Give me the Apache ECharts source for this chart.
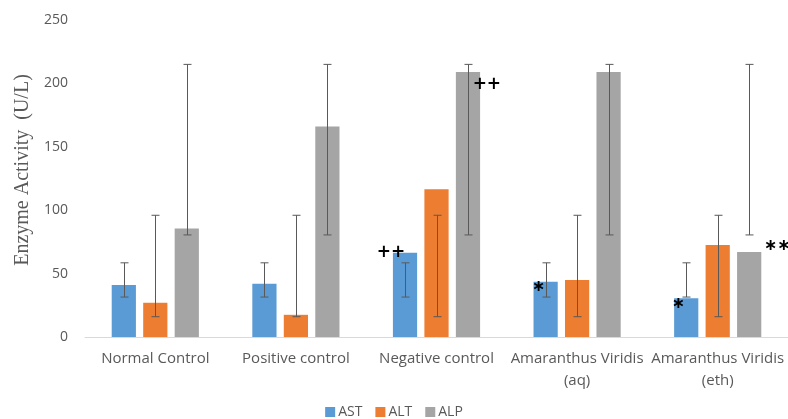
<!DOCTYPE html>
<html><head><meta charset="utf-8">
<script src="https://cdn.jsdelivr.net/npm/echarts@6/dist/echarts.min.js"></script>
<style>html,body{margin:0;padding:0;background:#fff}#c{width:788px;height:419px}</style>
</head><body><div id="c"></div>
<script>
var categories = ['Normal Control', 'Positive control', 'Negative control', 'Amaranthus Viridis\n(aq)', 'Amaranthus Viridis\n(eth)'];
var seriesNames = ['AST', 'ALT', 'ALP'];
var astValues = [41, 42, 66.5, 43.5, 30.5];
var altValues = [27, 17.5, 116.5, 45, 72.5];
var alpValues = [85.5, 166, 209, 209, 67];
// error bar ranges [low, high] per series (same for each group in the reference)
var astErr = [[31.5, 58.5], [31.5, 58.5], [31.5, 58.5], [31.5, 58.5], [31.5, 58.5]];
var altErr = [[16, 96], [16, 96], [16, 96], [16, 96], [16, 96]];
var alpErr = [[80.5, 215], [80.5, 215], [80.5, 215], [80.5, 215], [80.5, 215]];
// significance marks: [seriesIndex, categoryIndex, text]
var marks = [[0, 2, '++'], [2, 2, '++'], [0, 3, '∗'], [0, 4, '∗'], [2, 4, '∗∗']];
var yTicks = [0, 50, 100, 150, 200, 250];

var colors = ['#5B9BD5', '#ED7D31', '#A5A5A5'];
var valueSets = [astValues, altValues, alpValues];
var errSets = [astErr, altErr, alpErr];
var CAT_GAP = 0.38, BAR_GAP = 0.3;

var markStyle = {
  '0,2': {position: [-2, 0], align: 'center', verticalAlign: 'middle', fontSize: 17},
  '2,2': {position: [31, 13], align: 'center', verticalAlign: 'middle', fontSize: 17},
  '0,3': {position: [5, 5], align: 'center', verticalAlign: 'middle', fontSize: 16},
  '0,4': {position: [4, 6], align: 'center', verticalAlign: 'middle', fontSize: 16},
  '2,4': {position: [40, -6], align: 'center', verticalAlign: 'middle', fontSize: 16}
};

var series = [];
valueSets.forEach(function (vals, si) {
  series.push({
    name: seriesNames[si], type: 'bar',
    barCategoryGap: (CAT_GAP * 100) + '%', barGap: (BAR_GAP * 100) + '%',
    itemStyle: {color: colors[si]},
    data: vals.map(function (v, ci) {
      var item = {value: v};
      marks.forEach(function (m) {
        if (m[0] === si && m[1] === ci) {
          var st = markStyle[si + ',' + ci];
          item.label = {show: true, formatter: m[2], position: st.position, align: st.align,
            verticalAlign: st.verticalAlign, color: '#000', fontSize: st.fontSize, fontWeight: 'bold',
            fontFamily: 'DejaVu Sans'};
        }
      });
      return item;
    })
  });
});

errSets.forEach(function (errs, si) {
  series.push({
    type: 'custom', z: 10, silent: true,
    data: errs.map(function (e, ci) { return [ci, e[0], e[1]]; }),
    renderItem: function (params, api) {
      var ci = api.value(0);
      var bw = api.size([1, 0])[0];
      var barW = bw * (1 - CAT_GAP) / (3 + 2 * BAR_GAP);
      var step = barW * (1 + BAR_GAP);
      var lo = api.coord([ci, api.value(1)]);
      var hi = api.coord([ci, api.value(2)]);
      var x = Math.round(lo[0] + (si - 1) * step) + 0.5;
      var cap = 4;
      var st = {stroke: '#595959', lineWidth: 1};
      return {type: 'group', children: [
        {type: 'line', shape: {x1: x, y1: lo[1], x2: x, y2: hi[1]}, style: st},
        {type: 'line', shape: {x1: x - cap, y1: lo[1], x2: x + cap, y2: lo[1]}, style: st},
        {type: 'line', shape: {x1: x - cap, y1: hi[1], x2: x + cap, y2: hi[1]}, style: st}
      ]};
    }
  });
});

var chart = echarts.init(document.getElementById('c'));
chart.setOption({
  animation: false,
  grid: {left: 85, right: -1, top: 20, bottom: 82, containLabel: false},
  legend: {
    data: seriesNames, top: 400, left: 'center', itemWidth: 10, itemHeight: 10, itemGap: 13,
    icon: 'rect', textStyle: {color: '#595959', fontSize: 14, fontFamily: 'Open Sans', padding: [0, 0, 0, -2]}
  },
  xAxis: {
    type: 'category', data: categories,
    axisLine: {lineStyle: {color: '#D9D9D9'}}, axisTick: {show: false},
    axisLabel: {interval: 0, color: '#595959', fontSize: 15, fontFamily: 'Open Sans', margin: 11, lineHeight: 22}
  },
  yAxis: {
    type: 'value', min: yTicks[0], max: yTicks[yTicks.length - 1], interval: 50,
    name: 'Enzyme Activity  (U/L)', nameLocation: 'middle', nameGap: 51,
    nameTextStyle: {fontFamily: 'Liberation Serif', fontSize: 20, color: '#595959', padding: [0, 0, 0, 17]},
    splitLine: {show: false}, axisLine: {show: false}, axisTick: {show: false},
    axisLabel: {color: '#595959', fontSize: 14, fontFamily: 'Open Sans', margin: 17}
  },
  series: series
});
</script></body></html>
